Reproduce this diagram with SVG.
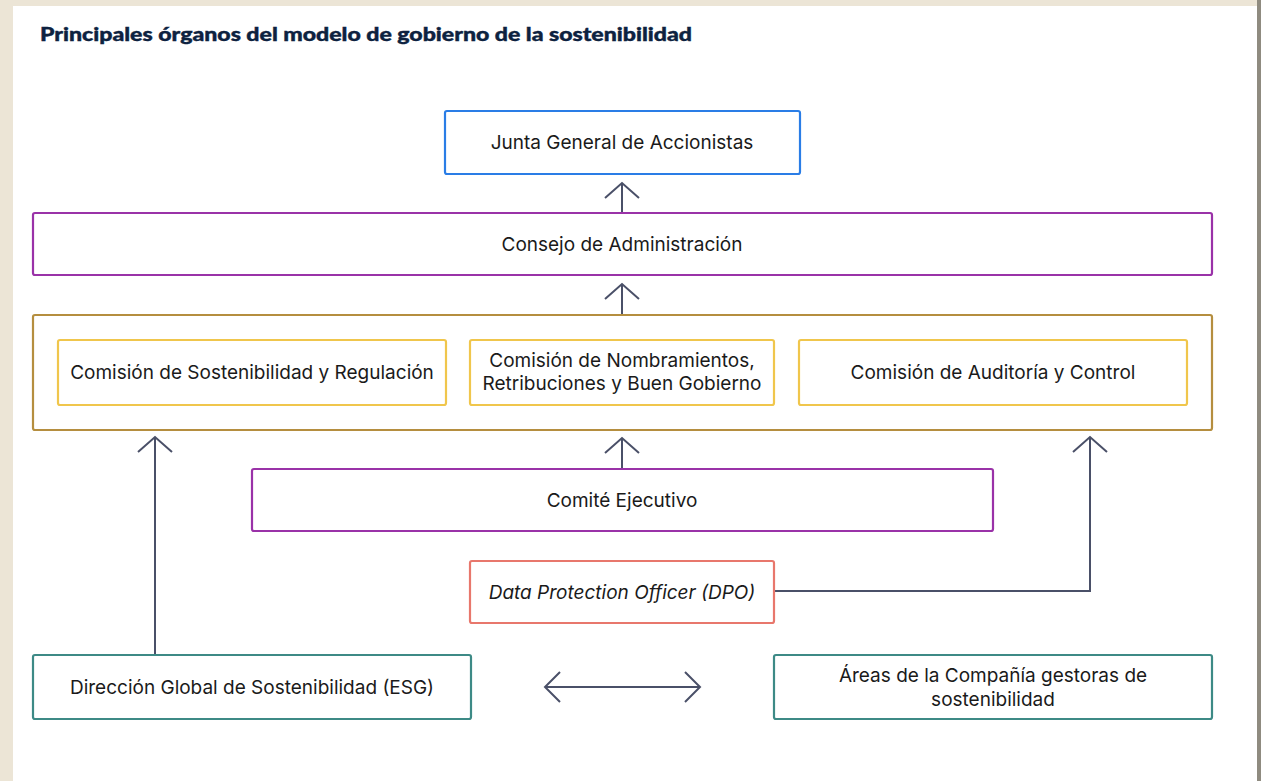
<svg xmlns="http://www.w3.org/2000/svg" width="1261" height="781" viewBox="0 0 1261 781">
<defs>
<style>
.t{font-family:Inter,"Liberation Sans",Arial,sans-serif;font-size:19px;fill:#1a1a1a;text-anchor:middle;dominant-baseline:central}
.box{fill:#fff;stroke-width:2.2}
.ar{fill:none;stroke:#4a5068;stroke-width:2}
</style>
</defs>
<rect x="0" y="0" width="1261" height="781" fill="#ece5d6"/>
<rect x="1257" y="0" width="4" height="781" fill="#8f8b80"/>
<rect x="13" y="6" width="1244" height="775" fill="#ffffff"/>
<text x="40" y="41" font-family="Lato,'Liberation Sans',sans-serif" font-weight="900" font-size="18" fill="#0d2240" stroke="#0d2240" stroke-width="0.4" textLength="652" lengthAdjust="spacingAndGlyphs">Principales órganos del modelo de gobierno de la sostenibilidad</text>

<g id="connectors">
<line class="ar" x1="622" y1="213" x2="622" y2="184"/>
<path class="ar" d="M605 198 L622 183 L639 198"/>
<line class="ar" x1="622" y1="315" x2="622" y2="285"/>
<path class="ar" d="M605 299 L622 284 L639 299"/>
<line class="ar" x1="622" y1="469" x2="622" y2="439"/>
<path class="ar" d="M605 453 L622 438 L639 453"/>
<line class="ar" x1="155" y1="655" x2="155" y2="438"/>
<path class="ar" d="M138 452 L155 437 L172 452"/>
<path class="ar" d="M774 591 L1090 591 L1090 438" stroke="#444a55"/>
<path class="ar" d="M1073 452 L1090 437 L1107 452"/>
<line class="ar" x1="545" y1="687" x2="700" y2="687"/>
<path class="ar" d="M560 672 L545 687 L560 702"/>
<path class="ar" d="M685 672 L700 687 L685 702"/>
</g>

<g id="junta">
<rect class="box" x="445" y="111" width="355" height="63" rx="2" stroke="#2a7de6"/>
<text class="t" x="622" y="142">Junta General de Accionistas</text>
</g>
<g id="consejo">
<rect class="box" x="33" y="213" width="1179" height="62" rx="2" stroke="#9a32a8"/>
<text class="t" x="622" y="244">Consejo de Administración</text>
</g>
<g id="comisiones">
<rect class="box" x="33" y="315" width="1179" height="115" rx="2" stroke="#b58e3f"/>
</g>
<g id="com-sost">
<rect class="box" x="58" y="340" width="388" height="65" rx="2" stroke="#f0c64c"/>
<text class="t" x="252" y="372">Comisión de Sostenibilidad y Regulación</text>
</g>
<g id="com-nomb">
<rect class="box" x="470" y="340" width="304" height="65" rx="2" stroke="#f0c64c"/>
<text class="t" x="622" y="360">Comisión de Nombramientos,</text>
<text class="t" x="622" y="383.5">Retribuciones y Buen Gobierno</text>
</g>
<g id="com-aud">
<rect class="box" x="799" y="340" width="388" height="65" rx="2" stroke="#f0c64c"/>
<text class="t" x="993" y="372">Comisión de Auditoría y Control</text>
</g>
<g id="comite">
<rect class="box" x="252" y="469" width="741" height="62" rx="2" stroke="#9a32a8"/>
<text class="t" x="622" y="500">Comité Ejecutivo</text>
</g>
<g id="dpo">
<rect class="box" x="470" y="561" width="304" height="62" rx="2" stroke="#e8776c"/>
<text class="t" x="622" y="592" font-style="italic">Data Protection Officer (DPO)</text>
</g>
<g id="direccion">
<rect class="box" x="33" y="655" width="438" height="64" rx="2" stroke="#3d8a86"/>
<text class="t" x="252" y="687">Dirección Global de Sostenibilidad (ESG)</text>
</g>
<g id="areas">
<rect class="box" x="774" y="655" width="438" height="64" rx="2" stroke="#3d8a86"/>
<text class="t" x="993" y="675.5">Áreas de la Compañía gestoras de</text>
<text class="t" x="993" y="699">sostenibilidad</text>
</g>
</svg>
